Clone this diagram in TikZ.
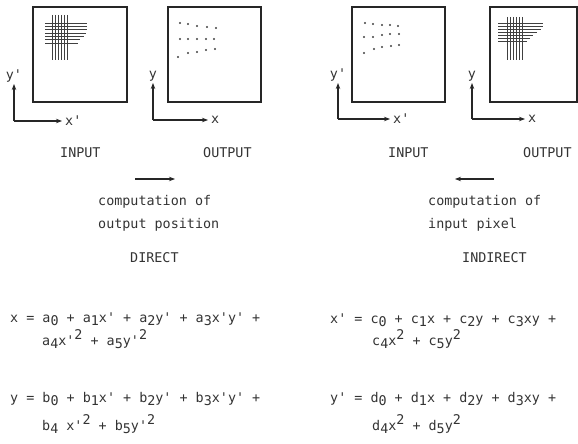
\documentclass[tikz,border=0pt]{standalone}
\usepackage{fontspec}
\setmonofont{DejaVu Sans Mono}
\usetikzlibrary{positioning,arrows.meta}

\newcommand{\lo}[1]{\raisebox{-0.45ex}{#1}}
\newcommand{\hi}[1]{\raisebox{0.7ex}{#1}}

\tikzset{
    panel/.style={draw=black!85, line width=1.4pt, minimum width=#1, minimum height=95pt, inner sep=0pt},
    panel/.default=94pt,
    axis/.style={-{Stealth[length=6pt,width=4.5pt]}, line width=1.1pt, draw=black!85},
    lbl/.style={font=\ttfamily\fontsize{13.4}{16}\selectfont, text=black!80, inner sep=1pt},
    txt/.style={lbl, anchor=base west, inner sep=0pt},
    hatch/.style={line width=0.8pt, draw=black!75},
    dotmark/.style={fill=black!75, draw=none},
}

\begin{document}
\begin{tikzpicture}[x=1pt, y=-1pt]
    \useasboundingbox (0,0) rectangle (578,444);

    % Draw the four frames
    \node[panel] (in1) at (80,54.5) {};
    \node[panel=93pt] (out1) at (214.5,54.5) {};
    \node[panel=93pt] (in2) at (398.5,54.5) {};
    \node[panel=87pt] (out2) at (533.5,54.5) {};

    % pixel grids
    \foreach \x in {52,55,...,67}
        \draw[hatch] (\x,15) -- (\x,60);
    \foreach \y/\r in {23/87,26.3/87,29.6/87,33/86,36.3/84,39.6/80,43/78}
        \draw[hatch] (45,\y) -- (\r,\y);
    \foreach \x in {507,510,...,522}
        \draw[hatch] (\x,17) -- (\x,60);
    \foreach \y/\r in {23/543,26/543,29/541,32/537,35/533,38/530,41/527}
        \draw[hatch] (498,\y) -- (\r,\y);

    % warped dot patterns
    \foreach \x/\y in {180/23,188/24,197/26,207/27,216/28,
                       180/39,188/39,197/39,206/39,214/39,
                       178/57,188/53,197/52,206/50,215/49}
        \fill[dotmark] (\x,\y) circle (1.2pt);
    \foreach \x/\y in {365/23,373/24,382/25,390/25,398/26,
                       364/37,373/37,382/35,390/34,399/34,
                       364/53,374/49,382/47,391/46,399/45}
        \fill[dotmark] (\x,\y) circle (1.2pt);

    % axes
    \coordinate (o1) at (14,121);  \coordinate (yt1) at (14,84);  \coordinate (xt1) at (62,121);
    \coordinate (o2) at (153,120); \coordinate (yt2) at (153,83); \coordinate (xt2) at (208,120);
    \coordinate (o3) at (338,119); \coordinate (yt3) at (338,83); \coordinate (xt3) at (390,119);
    \coordinate (o4) at (472,119); \coordinate (yt4) at (472,83); \coordinate (xt4) at (525,119);
    \foreach \i in {1,...,4} {
        \draw[axis] (o\i) -- (yt\i);
        \draw[axis] (o\i) -- (xt\i);
    }
    \node[lbl, above=1pt of yt1] (ylab1) {y'};
    \node[lbl, right=2pt of xt1] (xlab1) {x'};
    \node[lbl, above=1pt of yt2] (ylab2) {y};
    \node[lbl, right=2pt of xt2] (xlab2) {x};
    \node[lbl, above=1pt of yt3] (ylab3) {y'};
    \node[lbl, right=2pt of xt3] (xlab3) {x'};
    \node[lbl, above=1pt of yt4] (ylab4) {y};
    \node[lbl, right=2pt of xt4] (xlab4) {x};

    % captions, direct side
    \node[txt] (inlab1) at (60,157) {INPUT};
    \node[txt] (outlab1) at (203,157) {OUTPUT};
    \coordinate (da) at (135,179);
    \coordinate (db) at (175,179);
    \draw[axis] (da) -- (db);
    \node[txt] (comp1) at (98,205) {computation of};
    \node[txt] (comp1b) at (98,228) {output position};
    \node[txt] (direct) at (130,262) {DIRECT};

    % captions, indirect side
    \node[txt] (inlab2) at (388,157) {INPUT};
    \node[txt] (outlab2) at (523,157) {OUTPUT};
    \coordinate (ia) at (494,179);
    \coordinate (ib) at (455,179);
    \draw[axis] (ia) -- (ib);
    \node[txt] (comp2) at (428,205) {computation of};
    \node[txt] (comp2b) at (428,228) {input pixel};
    \node[txt] (indirect) at (462,262) {INDIRECT};

    % mapping polynomials
    \node[txt] (eqx) at (10,322) {x = a\lo{0} + a\lo{1}x' + a\lo{2}y' + a\lo{3}x'y' +};
    \node[txt] (eqxb) at (42,345) {a\lo{4}x'\hi{2} + a\lo{5}y'\hi{2}};
    \node[txt] (eqy) at (10,402) {y = b\lo{0} + b\lo{1}x' + b\lo{2}y' + b\lo{3}x'y' +};
    \node[txt] (eqyb) at (42,430) {b\lo{4} x'\hi{2} + b\lo{5}y'\hi{2}};

    \node[txt] (eqxp) at (330,323) {x' = c\lo{0} + c\lo{1}x + c\lo{2}y + c\lo{3}xy +};
    \node[txt] (eqxpb) at (372,345) {c\lo{4}x\hi{2} + c\lo{5}y\hi{2}};
    \node[txt] (eqyp) at (330,402) {y' = d\lo{0} + d\lo{1}x + d\lo{2}y + d\lo{3}xy +};
    \node[txt] (eqypb) at (372,430) {d\lo{4}x\hi{2} + d\lo{5}y\hi{2}};
\end{tikzpicture}
\end{document}
